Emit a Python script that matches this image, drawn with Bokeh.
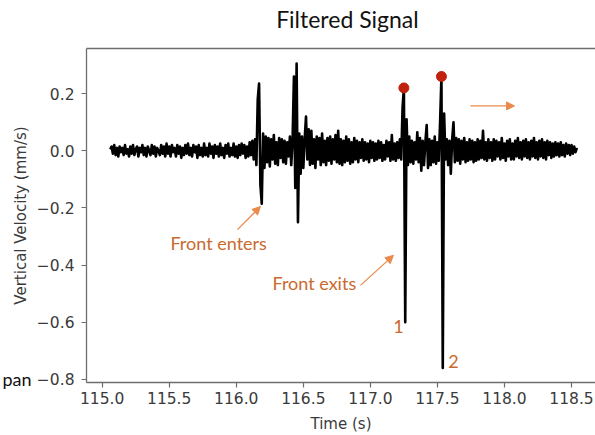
import numpy as np
from bokeh.plotting import figure
from bokeh.models import (Label, Arrow, NormalHead, LinearAxis, FixedTicker,
                          Range1d, ColumnDataSource)
from bokeh.embed import file_html
from bokeh.resources import INLINE

# ---------------- data ----------------
t_start = 115.06
t_step = 0.01
velocity = [
    0.005, 0.015, -0.01, 0.02, -0.015, 0.01, -0.02, 0.015, -0.005, 0.01,
    -0.015, 0.02, -0.01, 0.005, -0.02, 0.015, -0.01, 0.02, -0.015, 0.005,
    0.015, -0.02, 0.01, -0.005, 0.02, -0.015, 0.01, -0.02, 0.015, 0.0,
    -0.015, 0.02, -0.01, 0.015, -0.02, 0.01, 0.0, -0.015, 0.02, -0.01,
    0.015, -0.02, 0.025, -0.01, 0.015, -0.02, 0.02, -0.005, 0.01, -0.02,
    0.02, -0.01, 0.015, -0.025, 0.01, -0.015, 0.02, -0.01, 0.025, -0.015,
    0.01, -0.02, 0.02, -0.005, 0.015, -0.025, 0.02, -0.015, 0.01, -0.02,
    0.025, -0.015, 0.01, -0.02, 0.025, -0.01, 0.015, -0.025, 0.02, -0.01,
    0.015, -0.02, 0.025, -0.015, 0.01, -0.025, 0.02, -0.01, 0.025, -0.02,
    0.01, -0.015, 0.025, -0.02, 0.015, -0.025, 0.02, -0.015, 0.025, -0.01,
    0.02, -0.025, 0.015, -0.02, 0.03, -0.015, 0.035, -0.03, 0.04, -0.05,
    0.18, 0.235, -0.12, -0.185, 0.06, -0.06, 0.05, -0.04, 0.045, -0.055,
    0.04, -0.03, 0.055, -0.045, 0.03, -0.05, 0.045, -0.025, 0.04, -0.04,
    0.035, -0.045, 0.03, -0.02, 0.05, -0.05, 0.04, 0.26, -0.13, 0.305,
    -0.25, 0.06, -0.08, 0.05, -0.06, 0.04, 0.12, -0.03, 0.075, -0.05,
    0.07, -0.045, 0.04, -0.06, 0.05, -0.03, 0.045, -0.05, 0.06, -0.04,
    0.035, -0.05, 0.045, -0.035, 0.05, -0.045, 0.04, -0.03, 0.055, -0.04,
    0.07, -0.045, 0.04, -0.05, 0.035, -0.04, 0.05, -0.035, 0.04, -0.045,
    0.03, -0.04, 0.045, -0.03, 0.035, -0.04, 0.03, -0.025, 0.04, -0.035,
    0.03, -0.03, 0.025, -0.04, 0.035, -0.025, 0.03, -0.035, 0.025, -0.03,
    0.035, -0.025, 0.03, -0.035, 0.02, -0.03, 0.035, -0.02, 0.03, -0.035,
    0.055, -0.03, 0.025, -0.035, 0.03, -0.025, 0.04, -0.03, 0.15, 0.22,
    -0.60, 0.11, -0.05, 0.05, -0.04, 0.035, -0.045, 0.03, -0.03, 0.065,
    -0.04, 0.045, -0.07, 0.035, -0.05, 0.03, 0.09, -0.06, 0.04, -0.05,
    0.035, -0.04, 0.05, -0.045, 0.03, -0.035, 0.10, 0.26, -0.76, 0.13,
    -0.03, 0.04, -0.05, 0.035, -0.08, 0.04, 0.10, -0.04, 0.045, -0.035,
    0.04, -0.045, 0.035, -0.03, 0.045, -0.04, 0.03, -0.035, 0.04, -0.03,
    0.035, -0.04, 0.03, -0.035, 0.04, -0.03, 0.035, -0.025, 0.07, -0.03,
    0.03, -0.035, 0.04, -0.025, 0.03, -0.035, 0.04, -0.03, 0.035, -0.02,
    0.03, -0.03, 0.045, -0.025, 0.025, -0.035, 0.035, -0.02, 0.04, -0.03,
    0.025, -0.03, 0.035, -0.02, 0.045, -0.025, 0.03, -0.03, 0.035, -0.02,
    0.04, -0.025, 0.03, -0.03, 0.035, -0.02, 0.045, -0.025, 0.03, -0.03,
    0.035, -0.02, 0.04, -0.025, 0.03, -0.03, 0.035, -0.015, 0.03, -0.025,
    0.025, -0.02, 0.03, -0.015, 0.025, -0.02, 0.03, -0.015, 0.02, -0.02,
    0.025, -0.01, 0.02, -0.015, 0.02, -0.01, 0.015, -0.005, 0.01,
]
time = np.round(t_start + t_step * np.arange(len(velocity)), 4)

peak_times = [117.25, 117.53]
peak_values = [0.22, 0.26]

x_ticks = [115.0, 115.5, 116.0, 116.5, 117.0, 117.5, 118.0, 118.5]
x_tick_labels = ["115.0", "115.5", "116.0", "116.5", "117.0", "117.5", "118.0", "118.5"]
y_ticks = [-0.8, -0.6, -0.4, -0.2, 0.0, 0.2]
y_tick_labels = ["\u22120.8", "\u22120.6", "\u22120.4", "\u22120.2", "0.0", "0.2"]

title_text = "Filtered Signal"

# ---------------- figure ----------------
AX = "#6e6e6e"
TXT = "#3a3a3a"
ORANGE_T = "#C96A2E"
ORANGE_A = "#E98A4C"
FONT = "Lato"
TITLE_X = 116.829   # horizontal centre of the slide title (layout position)

p = figure(width=595, height=435, output_backend="svg", toolbar_location=None,
           x_range=Range1d(114.883, 118.679), y_range=Range1d(-0.811, 0.358),
           min_border_left=86, min_border_right=0, min_border_top=48,
           min_border_bottom=52, outline_line_color=None,
           background_fill_color="white", border_fill_color="white")
p.grid.visible = False

src = ColumnDataSource(dict(t=time, v=velocity))
p.line("t", "v", source=src, line_color="black", line_width=2.6,
       line_join="round")
p.scatter(peak_times, peak_values, size=10, color="#C0220E")

for ax in (p.xaxis[0], p.yaxis[0]):
    ax.axis_line_color = AX
    ax.axis_line_width = 1.3
    ax.major_tick_line_color = AX
    ax.major_tick_line_width = 1.2
    ax.major_tick_out = 5
    ax.major_tick_in = 0
    ax.minor_tick_line_color = None
    ax.major_label_text_font = "DejaVu Sans"
    ax.major_label_text_font_size = "15.5px"
    ax.major_label_text_color = TXT
    ax.axis_label_text_font = "DejaVu Sans"
    ax.axis_label_text_font_size = "15px"
    ax.axis_label_text_font_style = "normal"
    ax.axis_label_text_color = TXT

p.xaxis.ticker = FixedTicker(ticks=x_ticks)
p.xaxis.major_label_overrides = dict(zip(x_ticks, x_tick_labels))
p.xaxis.axis_label = "Time (s)"
p.xaxis.major_label_standoff = 4
p.xaxis.axis_label_standoff = 8

p.yaxis.ticker = FixedTicker(ticks=y_ticks)
p.yaxis.major_label_overrides = dict(zip(y_ticks, y_tick_labels))
p.yaxis.major_label_standoff = 7

# outer left axis: carries the y label and the stray slide word "pan"
outer = LinearAxis(ticker=FixedTicker(ticks=[-0.8]),
                   major_label_overrides={-0.8: "pan"},
                   axis_label="Vertical Velocity (mm/s)",
                   axis_line_color=None, major_tick_line_color=None,
                   minor_tick_line_color=None, major_tick_out=0,
                   major_tick_in=0, major_label_standoff=2,
                   major_label_text_font=FONT,
                   major_label_text_font_size="18px",
                   major_label_text_color="#111111",
                   axis_label_standoff=-31,
                   axis_label_text_font="DejaVu Sans",
                   axis_label_text_font_size="15px",
                   axis_label_text_font_style="normal",
                   axis_label_text_color=TXT)
p.add_layout(outer, "left")

# top axis: draws the top frame edge and carries the slide title
top = LinearAxis(ticker=FixedTicker(ticks=[TITLE_X]),
                 major_label_overrides={TITLE_X: title_text},
                 axis_line_color=AX, axis_line_width=1.3,
                 major_tick_line_color=None, minor_tick_line_color=None,
                 major_tick_out=0, major_tick_in=0, major_label_standoff=16,
                 major_label_text_font=FONT, major_label_text_font_size="23px",
                 major_label_text_color="#111111")
p.add_layout(top, "above")

# ---------------- annotations ----------------
p.add_layout(Label(x=115.509, y=-0.321, text="Front enters", text_font=FONT,
                   text_font_size="18px", text_color=ORANGE_T,
                   text_align="left", text_baseline="middle"))
p.add_layout(Label(x=116.270, y=-0.461, text="Front exits", text_font=FONT,
                   text_font_size="18px", text_color=ORANGE_T,
                   text_align="left", text_baseline="middle"))
p.add_layout(Label(x=117.2095, y=-0.614, text="1", text_font=FONT,
                   text_font_size="18px", text_color=ORANGE_T,
                   text_align="center", text_baseline="middle"))
p.add_layout(Label(x=117.620, y=-0.736, text="2", text_font=FONT,
                   text_font_size="18px", text_color=ORANGE_T,
                   text_align="center", text_baseline="middle"))

for xs, ys, xe, ye in [(116.009, -0.276, 116.18, -0.195),
                       (116.926, -0.471, 117.172, -0.366),
                       (117.746, 0.157, 118.075, 0.157)]:
    p.add_layout(Arrow(x_start=xs, y_start=ys, x_end=xe, y_end=ye,
                       line_color=ORANGE_A, line_width=1.3,
                       end=NormalHead(size=8, fill_color=ORANGE_A,
                                      line_color=ORANGE_A)))

open("out.html", "w").write(file_html(p, INLINE))
